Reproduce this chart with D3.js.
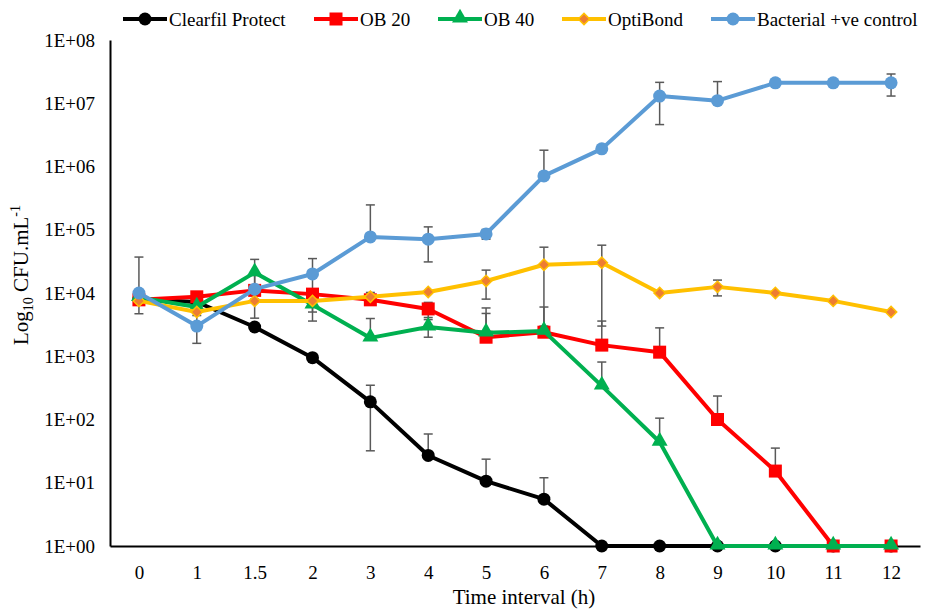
<!DOCTYPE html>
<html>
<head>
<meta charset="utf-8">
<script src="https://cdn.jsdelivr.net/npm/d3@7"></script>
<style>
  body { margin: 0; background: #fff; }
  text { font-family: "Liberation Serif", "Times New Roman", serif; fill: #000; }
</style>
</head>
<body>
<div id="chart"></div>
<script>
// time points (h)
var times = ["0", "1", "1.5", "2", "3", "4", "5", "6", "7", "8", "9", "10", "11", "12"];
var yTicks = [1, 1e1, 1e2, 1e3, 1e4, 1e5, 1e6, 1e7, 1e8];

// CFU per mL
var clearfil   = [8000, 7200, 2900, 950, 190, 27, 10.6, 5.5, 1, 1, 1, 1, 1, 1];
var ob20       = [7800, 8700, 11000, 9600, 7800, 5600, 2000, 2400, 1500, 1160, 100, 15.3, 1, 1];
var ob40       = [8500, 6000, 21000, 6500, 1950, 2900, 2350, 2500, 340, 44, 1, 1, 1, 1];
var optibond   = [7500, 5000, 7500, 7500, 8700, 10400, 15500, 28000, 30000, 10000, 12500, 10000, 7500, 5000];
var bacterial  = [10000, 3000, 11500, 20000, 77000, 71000, 86000, 710000, 1.9e6, 1.3e7, 1.1e7, 2.1e7, 2.1e7, 2.1e7];

// standard deviations (null = no bar shown)
var clearfilErr  = [null, null, null, null, 158, 32, 13, 6.5, null, null, null, null, null, null];
var ob20Err      = [null, null, null, null, null, 1500, 3800, null, 2100, 1650, 135, 20, null, null];
var ob40Err      = [null, null, 13000, 2900, 2000, 900, 2400, 3500, 470, 61, null, null, null, null];
var optibondErr  = [2800, null, null, null, 1500, null, 7500, 25000, 27000, null, 3500, null, null, null];
var bacterialErr = [27000, 1400, 7500, 15000, 170000, 40000, 15000, 1.1e6, null, 8.4e6, 1.1e7, null, null, 8e6];

var series = [
  {name: "Clearfil Protect", values: clearfil, err: clearfilErr, color: "#000000", marker: "circle"},
  {name: "OB 20", values: ob20, err: ob20Err, color: "#FF0000", marker: "square"},
  {name: "OB 40", values: ob40, err: ob40Err, color: "#00B050", marker: "triangle"},
  {name: "OptiBond", values: optibond, err: optibondErr, color: "#FFC000", marker: "diamond"},
  {name: "Bacterial +ve control", values: bacterial, err: bacterialErr, color: "#5B9BD5", marker: "circle"}
];
var legendX = [123, 314, 438, 562, 711];

var width = 930, height = 609;
var mLeft = 110, mRight = 920, mTop = 40, mBottom = 546;

var svg = d3.select("#chart").append("svg")
    .attr("width", width)
    .attr("height", height);

var x = d3.scalePoint().domain(times).range([mLeft, mRight]).padding(0.5);
var y = d3.scaleLog().domain([1, 1e8]).range([mBottom, mTop]);

function fmt(v) {
  var e = Math.round(Math.log10(v));
  return "1E+" + (e < 10 ? "0" + e : e);
}

// axes
var yAxis = svg.append("g").attr("transform", "translate(" + mLeft + ",0)")
    .call(d3.axisLeft(y).tickValues(yTicks).tickFormat(fmt).tickSize(0).tickPadding(15));
yAxis.select(".domain").attr("stroke", "#000").attr("stroke-width", 2);
yAxis.selectAll("text").style("font-size", "19px").attr("font-family", null);

var xAxis = svg.append("g").attr("transform", "translate(0," + mBottom + ")")
    .call(d3.axisBottom(x).tickSize(0).tickPadding(20));
xAxis.select(".domain").attr("stroke", "#000").attr("stroke-width", 2);
xAxis.selectAll("text").style("font-size", "19px").attr("font-family", null);

// axis titles
svg.append("text")
    .attr("x", 524)
    .attr("y", 604)
    .attr("text-anchor", "middle")
    .style("font-size", "21px")
    .text("Time interval (h)");

var yt = svg.append("text")
    .attr("transform", "translate(28,275) rotate(-90)")
    .attr("text-anchor", "middle")
    .style("font-size", "21px");
yt.append("tspan").text("Log");
yt.append("tspan").attr("dy", 5).style("font-size", "14px").text("10");
yt.append("tspan").attr("dy", -5).text(" CFU.mL");
yt.append("tspan").attr("dy", -8).style("font-size", "14px").text("-1");

function drawMarker(g, s, cx, cy) {
  if (s.marker == "circle") {
    g.append("circle").attr("cx", cx).attr("cy", cy).attr("r", 6.5).attr("fill", s.color);
  } else if (s.marker == "square") {
    g.append("rect").attr("x", cx - 6.5).attr("y", cy - 6.5).attr("width", 13).attr("height", 13).attr("fill", s.color);
  } else if (s.marker == "triangle") {
    g.append("path").attr("d", d3.symbol(d3.symbolTriangle, 110)())
      .attr("transform", "translate(" + cx + "," + (cy - 1) + ")").attr("fill", s.color);
  } else {
    g.append("path").attr("d", d3.symbol(d3.symbolSquare, 64)())
      .attr("transform", "translate(" + cx + "," + cy + ") rotate(45)")
      .attr("fill", "#ED7D31").attr("stroke", s.color).attr("stroke-width", 1.5);
  }
}

// error bars
var eb = svg.append("g").attr("stroke", "#595959").attr("stroke-width", 1.5);
series.forEach(function(s) {
  s.values.forEach(function(v, i) {
    var e = s.err[i];
    if (e == null) return;
    var cx = x(times[i]);
    var yHi = y(v + e);
    var yLo = (v - e > 0) ? y(Math.max(v - e, 1)) : y(v);
    eb.append("line").attr("x1", cx).attr("x2", cx).attr("y1", yHi).attr("y2", yLo);
    eb.append("line").attr("x1", cx - 4.5).attr("x2", cx + 4.5).attr("y1", yHi).attr("y2", yHi);
    if (v - e > 0)
      eb.append("line").attr("x1", cx - 4.5).attr("x2", cx + 4.5).attr("y1", yLo).attr("y2", yLo);
  });
});

// series lines + markers
var line = d3.line()
    .x(function(d, i) { return x(times[i]); })
    .y(function(d) { return y(d); });

series.forEach(function(s) {
  var g = svg.append("g");
  g.append("path")
    .datum(s.values)
    .attr("d", line)
    .attr("fill", "none")
    .attr("stroke", s.color)
    .attr("stroke-width", 4)
    .attr("stroke-linejoin", "round");
  s.values.forEach(function(v, i) {
    drawMarker(g, s, x(times[i]), y(v));
  });
});

// legend
series.forEach(function(s, i) {
  var g = svg.append("g");
  var lx = legendX[i], ly = 19;
  g.append("line").attr("x1", lx).attr("x2", lx + 44).attr("y1", ly).attr("y2", ly)
    .attr("stroke", s.color).attr("stroke-width", 4);
  drawMarker(g, s, lx + 22, ly);
  g.append("text").attr("x", lx + 46).attr("y", ly + 7)
    .style("font-size", "19px").text(s.name);
});
</script>
</body>
</html>
